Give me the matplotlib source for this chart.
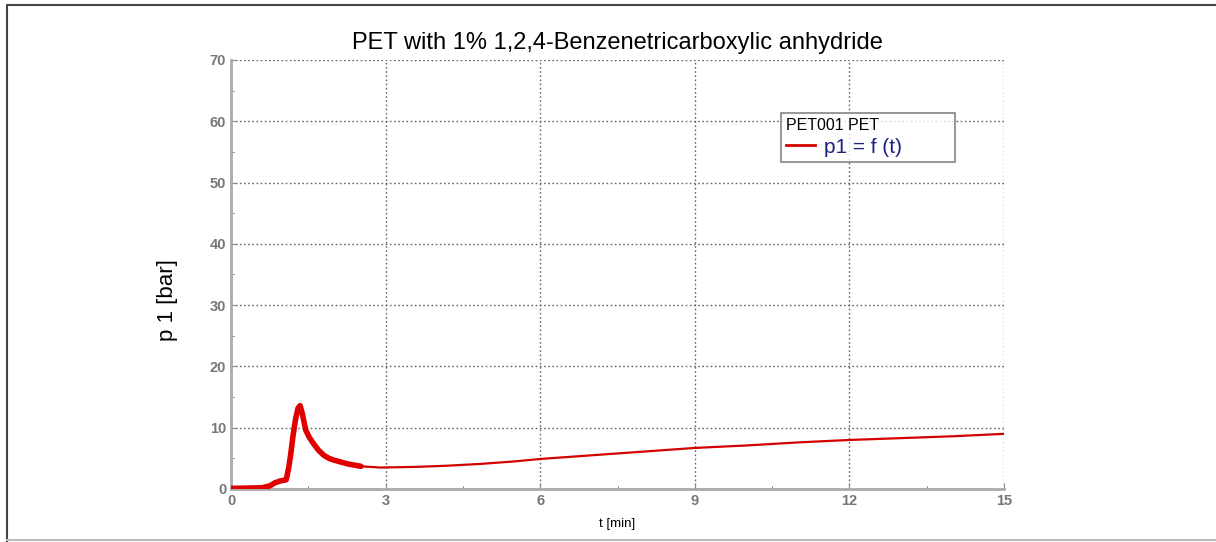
import numpy as np
import matplotlib.pyplot as plt
from matplotlib.lines import Line2D

# Data
t_min = [0.0, 0.3, 0.6, 0.75, 0.85, 0.95, 1.07, 1.12, 1.16, 1.20, 1.25, 1.30, 1.34,
         1.38, 1.45, 1.52, 1.6, 1.7, 1.8, 1.9, 2.0, 2.26, 2.52, 2.9, 3.2, 3.56,
         4.2, 4.85, 5.5, 6.0, 7.0, 8.0, 9.0, 10.0, 11.0, 12.0, 13.0, 14.0, 15.0]
p1_bar = [0.1, 0.15, 0.2, 0.5, 1.0, 1.3, 1.5, 3.5, 5.8, 8.5, 11.3, 13.2, 13.6,
          12.4, 9.6, 8.4, 7.4, 6.3, 5.5, 5.0, 4.7, 4.1, 3.7, 3.5, 3.55, 3.6,
          3.8, 4.1, 4.5, 4.9, 5.5, 6.1, 6.7, 7.1, 7.6, 8.0, 8.3, 8.6, 9.0]
x_ticks = [0, 3, 6, 9, 12, 15]
y_ticks = [0, 10, 20, 30, 40, 50, 60, 70]

plt.rcParams['font.family'] = ['Liberation Sans', 'DejaVu Sans']

fig = plt.figure(figsize=(12.16, 5.42), dpi=100)
ax = fig.add_axes([0.19, 0.0978, 0.6357, 0.7915])

# outer frame of the picture: dark top/left, light bottom
fig.add_artist(Line2D([0.006, 0.006, 1.0], [0.0, 0.99, 0.99], transform=fig.transFigure,
                      color='#444444', lw=1.5))
fig.add_artist(Line2D([0.006, 1.0], [0.003, 0.003], transform=fig.transFigure,
                      color='#bbbbbb', lw=1.5))

t = np.array(t_min)
p = np.array(p1_bar)
ax.plot(t, p, color='#d40000', lw=1.6, label='p1 = f (t)', zorder=3)
early = t <= 2.6
ax.plot(t[early], p[early], color='#e00000', lw=4, solid_capstyle='round', zorder=3)

ax.set_xlim(0, 15)
ax.set_ylim(0, 70)
ax.set_xticks(x_ticks)
ax.set_yticks(y_ticks)
ax.set_xticks(np.arange(1.5, 15, 3), minor=True)
ax.set_yticks(np.arange(5, 70, 10), minor=True)
ax.grid(True, which='major', linestyle=(0, (1.2, 1.8)), color='#666666', lw=1)

for side in ['top', 'right']:
    ax.spines[side].set_visible(False)
for side in ['left', 'bottom']:
    ax.spines[side].set_color('#aaaaaa')
    ax.spines[side].set_linewidth(2)

ax.tick_params(which='major', length=4, color='#888888', labelsize=10.5,
               labelcolor='#777777', direction='in')
ax.tick_params(which='minor', length=2, color='#666666', direction='in')
for lbl in ax.get_yticklabels() + ax.get_xticklabels():
    lbl.set_fontweight('bold')

ax.set_title('PET with 1% 1,2,4-Benzenetricarboxylic anhydride', fontsize=17, pad=8)
ax.set_xlabel('t [min]', fontsize=9.5, labelpad=7)
ax.set_ylabel('p 1 [bar]', fontsize=16)
ax.yaxis.set_label_coords(-0.068, 0.44)

leg = ax.legend(title='PET001 PET', loc='upper left',
                bbox_to_anchor=(0.7115, 0.876, 0.225, 0.0), mode='expand',
                borderaxespad=0, fontsize=15, title_fontsize=11.5, frameon=True,
                fancybox=False, handlelength=1.4, handletextpad=0.4,
                borderpad=0.25, labelspacing=0.2, alignment='left')
leg.get_frame().set_edgecolor('#666666')
leg.get_frame().set_linewidth(1.2)
for txt in leg.get_texts():
    txt.set_color('#1a237e')
leg.legend_handles[0].set_linewidth(2)

fig.savefig('out.png', dpi=100)
